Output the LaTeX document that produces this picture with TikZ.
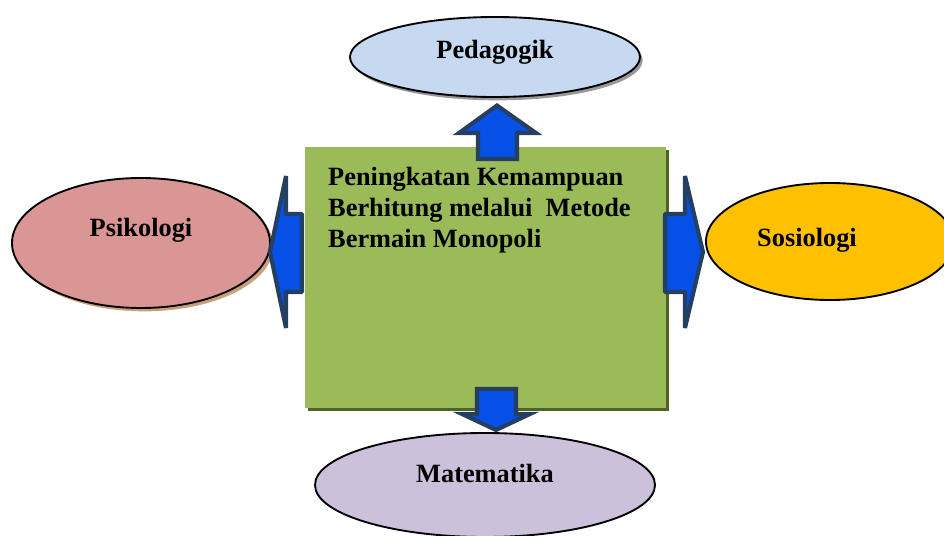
\documentclass[tikz,border=0pt]{standalone}
\usepackage{fontspec}
\setmainfont{Liberation Serif}
\usetikzlibrary{shapes.geometric,shadows}

\definecolor{boxGreen}{HTML}{9BBB59}
\definecolor{boxShade}{HTML}{4F6228}
\definecolor{pedBlue}{HTML}{C6D9F1}
\definecolor{psiRed}{HTML}{D99694}
\definecolor{psiShade}{HTML}{C9A07C}
\definecolor{sosYellow}{HTML}{FFC000}
\definecolor{matPurple}{HTML}{CCC1DA}
\definecolor{arrowBlue}{RGB}{5,80,230}
\definecolor{arrowEdge}{HTML}{243F60}

\tikzstyle{ellNode} = [ellipse, draw=black, line width=1.6pt, inner sep=0pt]
\tikzstyle{lbl} = [font=\fontsize{22.5}{26.4}\selectfont\bfseries, inner sep=0pt]
\tikzstyle{blockArrow} = [fill=arrowBlue, draw=arrowEdge, line width=3.5pt, line join=miter]

\begin{document}
\begin{tikzpicture}[x=0.03cm, y=-0.03cm]
    \useasboundingbox (0,0) rectangle (944,536);

    % ellipses
    \node (ped)[ellNode, fill=pedBlue, minimum width=8.7cm, minimum height=2.4cm,
        drop shadow={shadow xshift=0.08cm, shadow yshift=-0.1cm, fill=gray!80, opacity=1}] at (495,57) {};
    \node (psi)[ellNode, fill=psiRed, minimum width=7.74cm, minimum height=3.9cm,
        drop shadow={shadow xshift=0.1cm, shadow yshift=-0.1cm, fill=psiShade, opacity=1}] at (141,243) {};
    \node (sos)[ellNode, fill=sosYellow, minimum width=7.44cm, minimum height=3.51cm] at (830,241.5) {};
    \node (mat)[ellNode, fill=matPurple, minimum width=10.2cm, minimum height=3.12cm] at (485,485) {};

    \node (pedTxt)[lbl, yshift=0.15cm] at (ped) {Pedagogik};
    \node (psiTxt)[lbl, yshift=0.39cm] at (psi) {Psikologi};
    \node (sosTxt)[lbl] at (807,240) {Sosiologi};
    \node (matTxt)[lbl, yshift=0.36cm] at (mat) {Matematika};

    % central box
    \node (box)[rectangle, fill=boxGreen, minimum width=10.83cm, minimum height=7.83cm,
        drop shadow={shadow xshift=0.09cm, shadow yshift=-0.09cm, fill=boxShade, opacity=1}] at (485.5,277.5) {};
    \node (mainTxt)[lbl, anchor=north west, align=left] at (328,167)
        {Peningkatan Kemampuan\\Berhitung melalui~ Metode\\Bermain Monopoli};

    % arrows
    \draw[blockArrow] (497,105.5) -- (536,133) -- (517,133) -- (517,159) -- (478,159) -- (478,133) -- (459,133) -- cycle;
    \draw[blockArrow] (477,389) -- (516,389) -- (516,414) -- (530,414) -- (496,430) -- (462,414) -- (477,414) -- cycle;
    \draw[blockArrow, line join=bevel] (270,252) -- (286,176) -- (286,214) -- (302,214) -- (302,292) -- (286,292) -- (286,328) -- cycle;
    \draw[blockArrow, line join=bevel] (665,214) -- (685,214) -- (685,176) -- (703,252) -- (685,328) -- (685,292) -- (665,292) -- cycle;
\end{tikzpicture}
\end{document}
